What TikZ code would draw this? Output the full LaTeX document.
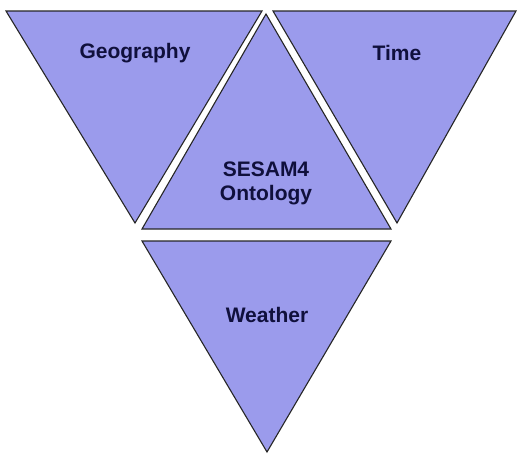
\documentclass[tikz,border=0pt]{standalone}
\usepackage{fontspec}
\setmainfont{Liberation Sans}
\definecolor{triblue}{RGB}{155,155,236}
\definecolor{labelnavy}{RGB}{16,16,60}
\begin{document}
\begin{tikzpicture}[x=1pt,y=-1pt,
  tri/.style={fill=triblue,draw=black!85,line width=1.1pt,line join=miter},
  lbl/.style={font=\fontsize{21}{24}\selectfont\bfseries,text=labelnavy,align=center,inner sep=0pt}]
\useasboundingbox[fill=white] (0,0) rectangle (517,455);
% Geography
\path[tri] (6,11) -- (262,11) -- (135,223) -- cycle;
% Time
\path[tri] (273,11) -- (516,11) -- (397,223) -- cycle;
% SESAM4 Ontology
\path[tri] (266,14) -- (391,229) -- (142,229) -- cycle;
% Weather
\path[tri] (142,241) -- (391,241) -- (267,452) -- cycle;
\node[lbl] (geo) at (135,53) {Geography};
\node[lbl] (time) at (397,53) {Time};
\node[lbl] (ses) at (266,183) {SESAM4\\Ontology};
\node[lbl] (wea) at (267,315) {Weather};
\end{tikzpicture}
\end{document}
